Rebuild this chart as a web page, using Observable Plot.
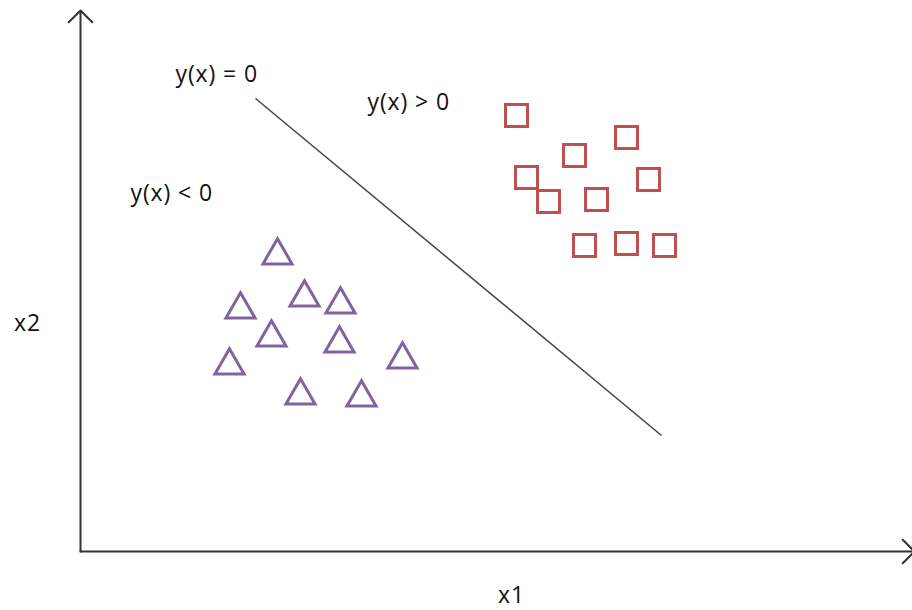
<!DOCTYPE html>
<html>
<head>
<meta charset="utf-8">
<script src="https://cdn.jsdelivr.net/npm/d3@7"></script>
<script src="https://cdn.jsdelivr.net/npm/@observablehq/plot@0.6"></script>
<style>
  html, body { margin: 0; padding: 0; background: #fff; }
  #chart svg { display: block; }
  #chart svg text { letter-spacing: 0.9px; }
</style>
</head>
<body>
<div id="chart"></div>
<script>
// Class A (y(x) < 0): triangles
const triX1 = [197, 160, 224, 260, 191, 259, 149, 322, 220, 281];
const triX2 = [296, 242, 254, 247, 214, 208, 186, 192, 156, 154];

// Class B (y(x) > 0): squares
const sqX1 = [436, 546, 494, 446, 568, 468, 516, 504, 546, 584];
const sqX2 = [436, 414, 396, 374, 372, 350, 352, 306, 308, 306];

// Decision boundary y(x) = 0
const boundaryX1 = [175, 581];
const boundaryX2 = [453, 116];

// Region annotations
const labelText = ["y(x) = 0", "y(x) > 0", "y(x) < 0"];
const labelX1 = [95, 287, 50];
const labelX2 = [477, 449, 358];

// Axis titles
const axisText = ["x1", "x2"];
const axisX1 = [431, -53];
const axisX2 = [-44, 228];

const triangles = triX1.map((v, i) => ({x1: v, x2: triX2[i]}));
const squares = sqX1.map((v, i) => ({x1: v, x2: sqX2[i]}));
const boundary = [{x1: boundaryX1[0], x2: boundaryX2[0], x3: boundaryX1[1], x4: boundaryX2[1]}];
const labels = labelText.map((t, i) => ({t, x1: labelX1[i], x2: labelX2[i]}));
const axisLabels = axisText.map((t, i) => ({t, x1: axisX1[i], x2: axisX2[i]}));
const axes = [
  {x1: 0, y1: 0, x2: 0, y2: 541},
  {x1: 0, y1: 0, x2: 834, y2: 0}
];

const font = "'Open Sans', 'Liberation Sans', sans-serif";

const chart = Plot.plot({
  width: 912,
  height: 610,
  margin: 0,
  x: {domain: [-80, 832], range: [0, 912], axis: null},
  y: {domain: [-59, 551], range: [610, 0], axis: null},
  style: {fontFamily: font, background: "#fff"},
  marks: [
    Plot.arrow(axes, {
      x1: "x1", y1: "y1", x2: "x2", y2: "y2",
      stroke: "#333", strokeWidth: 2, headAngle: 90, headLength: 12.5
    }),
    Plot.link(boundary, {
      x1: "x1", y1: "x2", x2: "x3", y2: "x4",
      stroke: "#444", strokeWidth: 1.5
    }),
    Plot.dot(triangles, {
      x: "x1", y: "x2", symbol: "triangle", r: 10.8,
      stroke: "#8064a2", strokeWidth: 3, fill: "none"
    }),
    Plot.dot(squares, {
      x: "x1", y: "x2", symbol: "square", r: 12.4,
      stroke: "#c0504d", strokeWidth: 3, fill: "none"
    }),
    Plot.text(labels, {
      x: "x1", y: "x2", text: "t", textAnchor: "start",
      fontSize: 23, fill: "#111"
    }),
    Plot.text(axisLabels, {
      x: "x1", y: "x2", text: "t",
      fontSize: 23, fill: "#111"
    })
  ]
});

document.getElementById("chart").appendChild(chart);
</script>
</body>
</html>
